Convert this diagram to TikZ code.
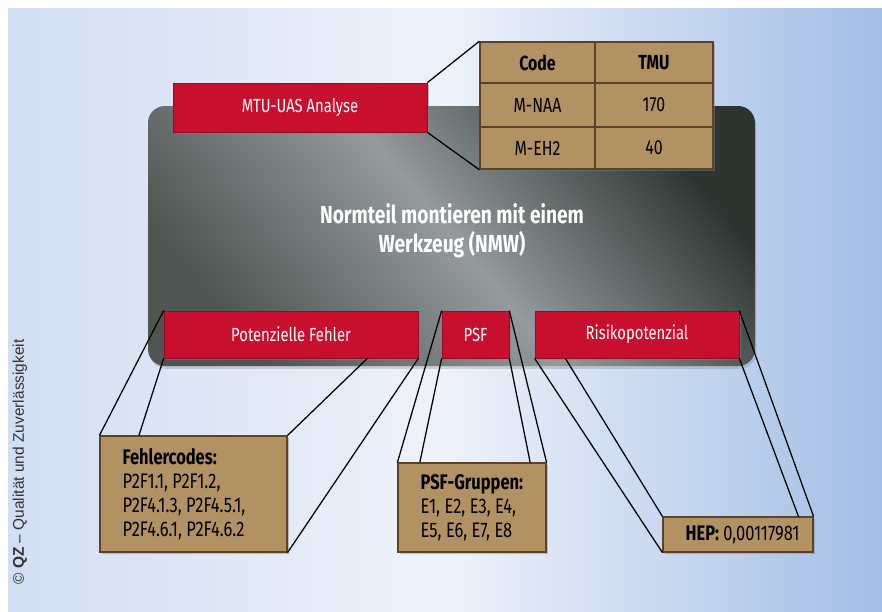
\documentclass[tikz,border=0pt]{standalone}
\usepackage{fontspec}
\setmainfont{Fira Sans}[FakeStretch=0.78]
\newfontfamily\qzfont{Liberation Sans}
\usetikzlibrary{fit,calc,shadows}

\definecolor{qzred}{RGB}{200,16,46}
\definecolor{qzredline}{RGB}{150,10,35}
\definecolor{qztan}{RGB}{178,145,98}
\definecolor{qztanline}{RGB}{92,66,40}
\definecolor{qzdark}{RGB}{46,53,49}
\definecolor{qzdarkleft}{RGB}{78,85,82}
\definecolor{qzgrey}{RGB}{148,154,157}
\definecolor{qzsky}{RGB}{210,222,242}
\definecolor{qzpale}{RGB}{238,242,250}
\definecolor{qzblue}{RGB}{163,190,230}

\begin{document}
\begin{tikzpicture}[x=0.025cm, y=-0.025cm,
    redbox/.style={draw=qzredline, fill=qzred, inner sep=0pt, line width=0.5pt,
        drop shadow={opacity=0.45, shadow xshift=1.5pt, shadow yshift=-1.5pt},
        label={[text=white, font=\fontsize{13.5}{16}\selectfont]center:#1}},
    tanbox/.style={draw=qztanline, fill=qztan, inner sep=0pt, line width=0.8pt,
        drop shadow={opacity=0.45, shadow xshift=1.5pt, shadow yshift=-1.5pt},
        label={[anchor=west, xshift=13pt, align=left, font=\fontsize{15}{17}\selectfont]west:#1}},
    cell/.style={draw=qztanline, fill=qztan, inner sep=0pt, line width=1pt,
        drop shadow={opacity=0.45, shadow xshift=1.5pt, shadow yshift=-1.5pt},
        label={[font=\fontsize{14.5}{16}\selectfont]center:#1}},
    link/.style={line width=0.9pt, black}]
        \fill[white] (0,0) rectangle (882,612);
        \shade[left color=qzsky, right color=qzblue, middle color=qzpale] (8,8) rectangle (882,612);
        \useasboundingbox (0,0) rectangle (882,612);

        \node[fit={(148,106) (755,366)}, inner sep=0pt, rounded corners=12pt,
              left color=qzdarkleft, right color=qzdark, middle color=qzgrey, shading angle=130,
              drop shadow={opacity=0.3, shadow xshift=1pt, shadow yshift=-2pt}] (nmw) {};
        \node[text=white, font=\bfseries\fontsize{17.5}{20.5}\selectfont, align=center] (title) at (452,231)
              {Normteil montieren mit einem\\Werkzeug (NMW)};

        \node[redbox=MTU-UAS Analyse,   fit={(173,83) (427,132)}]  (mtu) {};

        \node[cell=\textbf{Code}, fit={(480,42) (595,83)}]   (code) {};
        \node[cell=\textbf{TMU},  fit={(595,42) (713,83)}]   (tmu) {};
        \node[cell=M-NAA,         fit={(480,83) (595,127)}]  (naa) {};
        \node[cell=170,           fit={(595,83) (713,127)}]  (naatmu) {};
        \node[cell=M-EH2,         fit={(480,127) (595,169)}] (eh2) {};
        \node[cell=40,            fit={(595,127) (713,169)}] (eh2tmu) {};

        \node[redbox=Potenzielle Fehler, fit={(164,311) (418,358)}] (fehler) {};
        \node[redbox=PSF,                fit={(442,311) (509,358)}] (psf) {};
        \node[redbox=Risikopotenzial,    fit={(535,311) (739,358)}] (risiko) {};

        \node[tanbox={\textbf{Fehlercodes:}\\P2F1.1, P2F1.2,\\P2F4.1.3, P2F4.5.1,\\P2F4.6.1, P2F4.6.2},
              fit={(100,436) (287,552)}] (codes) {};
        \node[tanbox={\textbf{PSF-Gruppen:}\\E1, E2, E3, E4,\\E5, E6, E7, E8},
              fit={(398,463) (546,552)}] (gruppen) {};
        \node[tanbox={\textbf{HEP:} 0,00117981},
              fit={(663,517) (813,552)}] (hep) {};

        \node[rotate=90, text=black!80, font=\qzfont\fontsize{11}{12}\selectfont] (qz) at (20,462)
              {© \textbf{QZ} – Qualität und Zuverlässigkeit};

        \draw [link] (mtu.north east) -- (code.north west);
        \draw [link] (mtu.south east) -- (eh2.south west);

        \draw [link] (fehler.north west) -- (codes.north west);
        \draw [link] (fehler.south west) -- ($(codes.north west)!0.21!(codes.north east)$);
        \draw [link] ($(fehler.south west)!0.8!(fehler.south east)$) -- (codes.north east);
        \draw [link] (fehler.south east) -- (codes.south east);

        \draw [link] (psf.north west) -- (gruppen.north west);
        \draw [link] (psf.south west) -- ($(gruppen.north west)!0.15!(gruppen.north east)$);
        \draw [link] (psf.south east) -- ($(gruppen.north west)!0.89!(gruppen.north east)$);
        \draw [link] (psf.north east) -- (gruppen.north east);

        \draw [link] (risiko.south west) -- (hep.south west);
        \draw [link] ($(risiko.south west)!0.15!(risiko.south east)$) -- (hep.north west);
        \draw [link] (risiko.south east) -- ($(hep.north west)!0.9!(hep.north east)$);
        \draw [link] (risiko.north east) -- (hep.north east);
    \end{tikzpicture}
\end{document}
